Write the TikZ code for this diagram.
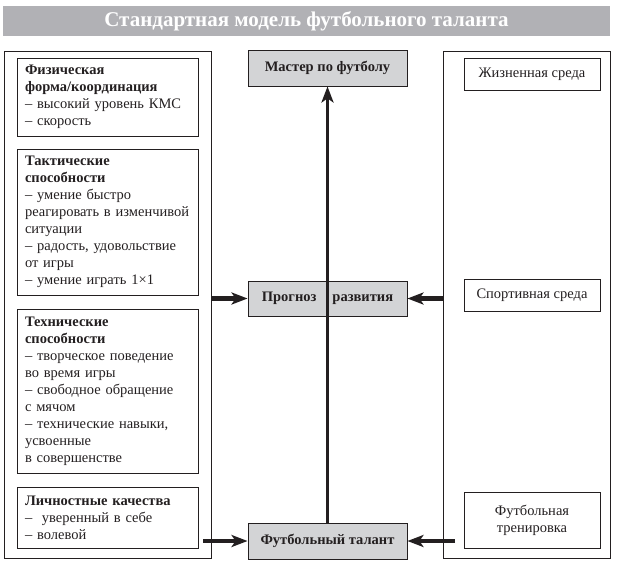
\documentclass[tikz,border=0pt]{standalone}
\usepackage{fontspec}
\setmainfont{Liberation Serif}
\usetikzlibrary{arrows.meta}
\definecolor{bargray}{HTML}{B1B1B5}
\definecolor{boxgray}{HTML}{D3D4D6}
\definecolor{ink}{HTML}{231F20}
\tikzset{
  frame/.style={draw=ink,line width=0.9pt,minimum width=#1,inner sep=0pt},
  factor/.style={draw=ink,line width=0.9pt,text width=165pt,align=left,inner xsep=8pt,
    inner ysep=0pt,minimum height=#1,font=\fontsize{14.5}{17}\selectfont,text=ink},
  milieu/.style={draw=ink,line width=0.9pt,minimum width=136pt,minimum height=#1,
    align=center,font=\fontsize{14.5}{17}\selectfont,text=ink},
  stage/.style={draw=ink,line width=0.9pt,fill=boxgray,minimum width=159pt,minimum height=#1,
    inner sep=0pt,font=\fontsize{14.5}{17}\selectfont\bfseries,text=ink},
  push/.style={ink,line width=4.5pt,-{Stealth[length=16pt,width=12pt,inset=4pt]}}
}
\begin{document}
\begin{tikzpicture}[x=1pt,y=-1pt]
  \useasboundingbox (0,0) rectangle (617,569);
  \node[fill=bargray,minimum width=607pt,minimum height=30pt,inner sep=0pt,
    text=white,font=\fontsize{21}{24}\selectfont\bfseries] (title) at (306.5,21)
    {Стандартная модель футбольного таланта};
  % left and right frames
  \node[frame=207pt,minimum height=507pt] (lframe) at (107.5,304.5) {};
  \node[frame=167pt,minimum height=507pt] (rframe) at (526.5,304.5) {};
  % factors
  \node[factor=78pt] (phys) at (107.5,97)
    {\textbf{Физическая}\\\textbf{форма/координация}\\– высокий уровень КМС\\– скорость};
  \node[factor=146pt] (tact) at (107.5,222)
    {\textbf{Тактические}\\\textbf{способности}\\– умение быстро\\реагировать в изменчивой\\ситуации\\– радость, удовольствие\\от игры\\– умение играть 1×1};
  \node[factor=164pt] (tech) at (107.5,391)
    {\textbf{Технические}\\\textbf{способности}\\– творческое поведение\\во время игры\\– свободное обращение\\с мячом\\– технические навыки,\\усвоенные\\в совершенстве};
  \node[factor=61pt] (pers) at (107.5,517.5)
    {\textbf{Личностные качества}\\–\ \ уверенный в себе\\– волевой};
  % environments
  \node[milieu=32pt] (life) at (532,74) {Жизненная среда};
  \node[milieu=32pt] (sport) at (532,295) {Спортивная среда};
  \node[milieu=56pt] (train) at (532,520) {Футбольная\\тренировка};
  % stages
  \node[stage=36pt] (master) at (327.5,68) {Мастер по футболу};
  \node[stage=35pt] (forecast) at (327.5,298.5) {Прогноз\hspace{1.1em}развития};
  \node[stage=36pt] (talent) at (327.5,541) {Футбольный талант};
  \coordinate (lstub) at (203,541);
  \coordinate (rstub) at (455,541);
  \draw[push] (lframe.east |- forecast.west) -- (forecast.west);
  \draw[push] (rframe.west |- forecast.east) -- (forecast.east);
  \draw[push] (lstub) -- (talent.west);
  \draw[push] (rstub) -- (talent.east);
  \draw[push,line width=3pt] (talent.north) -- (master.south);
\end{tikzpicture}
\end{document}
